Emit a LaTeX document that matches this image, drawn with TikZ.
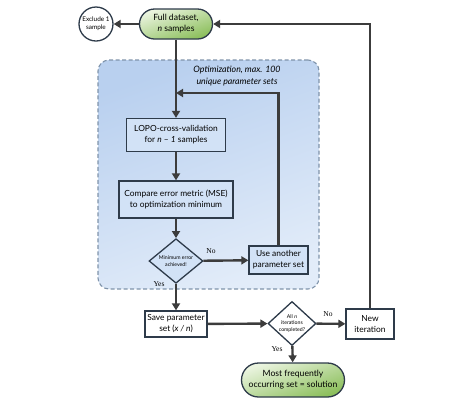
\documentclass[tikz,border=0pt]{standalone}
\usepackage{fontspec}
\setmainfont{Lato}
\newfontfamily\labfont{Liberation Serif}
\usetikzlibrary{shapes.geometric,arrows.meta}
\definecolor{linec}{HTML}{3C3C3C}
\definecolor{boxline}{HTML}{2E3B4A}
\definecolor{boxfill}{HTML}{D2E2F6}
\definecolor{optdash}{HTML}{7F93AA}
\definecolor{opttop}{HTML}{B9D0EF}
\definecolor{optbot}{HTML}{E2ECF9}
\definecolor{greentop}{HTML}{EAF4DF}
\definecolor{greenbot}{HTML}{8CBF5C}
\begin{document}
\begin{tikzpicture}[x=1pt,y=-1pt,
  conn/.style={draw=linec, line width=2.4pt, -{Triangle[length=7pt,width=8pt]}},
  procbox/.style={draw=boxline, line width=1.3pt, fill=boxfill, align=center, inner sep=0pt,
     font=\fontsize{8.4}{11}\selectfont},
  whitebox/.style={draw=boxline, line width=1.3pt, fill=white, align=center, inner sep=0pt,
     font=\fontsize{8.4}{11}\selectfont},
  pill/.style={draw=boxline, line width=1.3pt, top color=greentop, bottom color=greenbot,
     shading angle=20, align=center, inner sep=0pt, font=\fontsize{8.6}{11}\selectfont},
  decision/.style={diamond, draw=boxline, line width=1.3pt, align=center, inner sep=0pt,
     font=\fontsize{5.2}{6.5}\selectfont},
  lab/.style={font=\labfont\fontsize{7.5}{8}\selectfont, inner sep=0pt},
  optbox/.style={draw=optdash, line width=1.1pt, dash pattern=on 4pt off 2.5pt,
     rounded corners=11pt, top color=opttop, bottom color=optbot, shading angle=20},
]
\useasboundingbox (0,0) rectangle (474,408);

% optimization region
\node[optbox, minimum width=221pt, minimum height=229pt, inner sep=0pt] (opt) at (208.5,174.5) {};
\node[font=\itshape\fontsize{8.8}{12}\selectfont, align=center, inner sep=0pt] (opttitle) at (237,76)
  {Optimization, max. 100\\unique parameter sets};

% nodes
\node[pill, minimum width=73pt, minimum height=30pt, rounded corners=15pt] (full) at (176,24)
  {Full dataset,\\\textit{n} samples};
\node[circle, draw=boxline, line width=1.3pt, fill=white, minimum size=34pt, inner sep=0pt,
  align=center, font=\fontsize{6.4}{8}\selectfont] (excl) at (96,24) {Exclude 1\\sample};
\node[procbox, minimum width=99pt, minimum height=33pt] (lopo) at (176,135)
  {LOPO-cross-validation\\for \textit{n} -- \textit{1} samples};
\node[procbox, minimum width=114pt, minimum height=37pt] (cmp) at (176,199.5)
  {Compare error metric (MSE)\\to optimization minimum};
\node[decision, fill=boxfill, minimum width=54pt, minimum height=42pt] (d1) at (176,261)
  {Minimum error\\achieved!};
\node[procbox, minimum width=59pt, minimum height=28pt] (use) at (278.5,260)
  {Use another\\parameter set};
\node[whitebox, minimum width=62pt, minimum height=26pt] (save) at (176,324)
  {Save parameter\\set (\textit{x / n})};
\node[decision, fill=white, minimum width=48pt, minimum height=41pt] (d2) at (292,323.5)
  {All \textit{n}\\iterations\\completed?};
\node[whitebox, minimum width=48pt, minimum height=30pt] (new) at (370,324)
  {New\\iteration};
\node[pill, minimum width=103pt, minimum height=34pt, rounded corners=17pt] (most) at (293,380)
  {Most frequently\\occurring set = solution};

\coordinate (join) at (176,93);

% connectors
\draw[conn] (full) -- (excl);
\draw[conn] (full) -- (lopo);
\draw[conn] (lopo) -- (cmp);
\draw[conn] (cmp) -- (d1);
\draw[conn] (d1) -- (use);
\node[lab] (no1) at (211,251) {No};
\draw[conn] (use.north) |- (join);
\draw[conn] (d1) -- (save);
\node[lab] (yes1) at (159,284) {Yes};
\draw[conn] (save) -- (d2);
\draw[conn] (d2) -- (new);
\node[lab] (no2) at (328,314) {No};
\draw[conn] (d2) -- (most);
\node[lab] (yes2) at (277,349) {Yes};
\draw[conn] (new.north) |- (full.east);
\end{tikzpicture}
\end{document}
